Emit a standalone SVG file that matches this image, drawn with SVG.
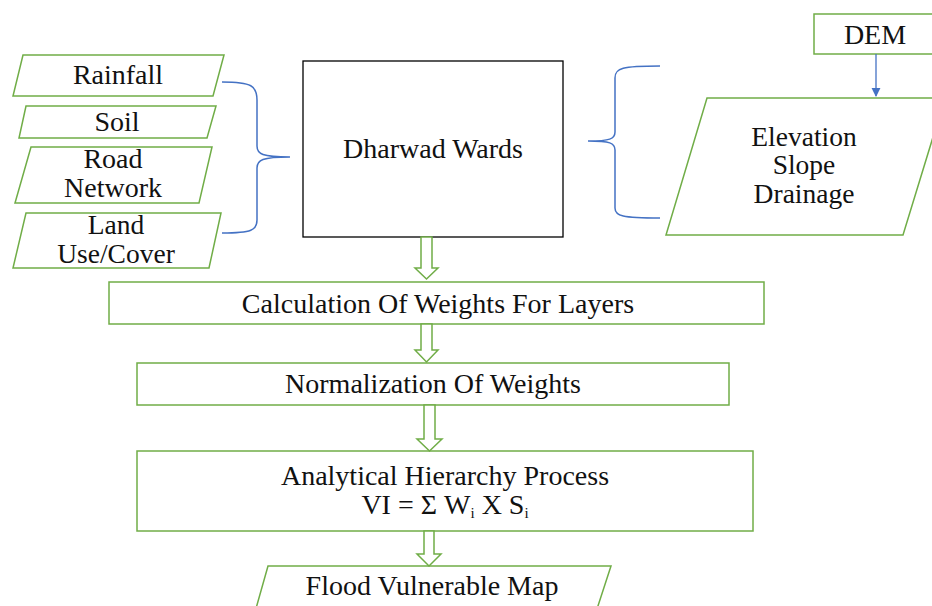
<svg xmlns="http://www.w3.org/2000/svg" width="932" height="606" viewBox="0 0 932 606">
  <defs>
    <style>
      .g { fill: #ffffff; stroke: #70ad47; stroke-width: 1.5; }
      .k { fill: #ffffff; stroke: #000000; stroke-width: 1.3; }
      .brace { fill: none; stroke: #4472c4; stroke-width: 1.5; }
      text { fill: #111111; text-anchor: middle; }
    </style>
    <marker id="blueHead" viewBox="0 0 10 10" refX="9" refY="5" markerWidth="7" markerHeight="7" orient="auto">
      <path d="M0,0 L10,5 L0,10 z" fill="#4472c4"/>
    </marker>
  </defs>
  <rect width="932" height="606" fill="#ffffff"/>

  <!-- input layers -->
  <g id="rainfall">
    <polygon class="g" points="23,55 224,55 213,96 13,96"/>
    <text x="118" y="84" font-family="Liberation Serif" font-size="28">Rainfall</text>
  </g>
  <g id="soil">
    <polygon class="g" points="26,106 216,106 207,138 19,138"/>
    <text x="117" y="131" font-family="Liberation Serif" font-size="28">Soil</text>
  </g>
  <g id="road">
    <polygon class="g" points="31,147 212,147 199,203 15,203"/>
    <text x="113" y="168" font-family="Liberation Serif" font-size="28">Road</text>
    <text x="113" y="197" font-family="Liberation Serif" font-size="28">Network</text>
  </g>
  <g id="landuse">
    <polygon class="g" points="26,213 221,213 209,268 13,268"/>
    <text x="116" y="234" font-family="Liberation Serif" font-size="27.5">Land</text>
    <text x="116" y="263" font-family="Liberation Serif" font-size="27.5">Use/Cover</text>
  </g>

  <g id="dharwad">
    <rect class="k" x="303" y="61" width="260" height="176"/>
    <text x="433" y="158" font-family="Liberation Serif" font-size="28">Dharwad Wards</text>
  </g>

  <g id="dem">
    <rect class="g" x="814" y="14" width="130" height="40"/>
    <text x="875" y="44" font-family="Liberation Serif" font-size="28">DEM</text>
  </g>

  <g id="terrain">
    <polygon class="g" points="707,98 945,98 903,235 666,235"/>
    <text x="804" y="146" font-family="Liberation Serif" font-size="27.5">Elevation</text>
    <text x="804" y="174" font-family="Liberation Serif" font-size="27.5">Slope</text>
    <text x="804" y="203" font-family="Liberation Serif" font-size="27.5">Drainage</text>
  </g>

  <g id="weights">
    <rect class="g" x="109" y="282" width="655" height="42"/>
    <text x="438" y="313" font-family="Liberation Serif" font-size="28">Calculation Of Weights For Layers</text>
  </g>

  <g id="normalization">
    <rect class="g" x="137" y="363" width="592" height="42"/>
    <text x="433" y="393" font-family="Liberation Serif" font-size="28">Normalization Of Weights</text>
  </g>

  <g id="ahp">
    <rect class="g" x="137" y="451" width="616" height="80"/>
    <text x="445" y="485" font-family="Liberation Serif" font-size="28">Analytical Hierarchy Process</text>
    <text x="445" y="514" font-family="Liberation Serif" font-size="28">VI = Σ W<tspan font-size="15" dy="4">i</tspan><tspan dy="-4"> X S</tspan><tspan font-size="15" dy="4">i</tspan></text>
  </g>

  <g id="floodmap">
    <polygon class="g" points="268,566 611,566 596,612 255,612"/>
    <text x="432" y="595" font-family="Liberation Serif" font-size="28">Flood Vulnerable Map</text>
  </g>

  <!-- connectors -->
  <g id="connectors">
    <path class="brace" d="M222,82 C252,82 257,86 257,100 L257,146 C257,154 262,157 290,157 C262,157 257,160 257,168 L257,220 C257,230 252,233 222,233"/>
    <path class="brace" d="M660,66 C622,66 615,68 615,78 L615,132 C615,139 610,141 588,141 C610,141 615,143 615,150 L615,208 C615,216 622,218 660,218"/>
    <line x1="876" y1="54" x2="876" y2="96" stroke="#4472c4" stroke-width="1.3" marker-end="url(#blueHead)"/>
    <polygon class="g" points="421,237 432,237 432,268 438,268 426.5,279 415,268 421,268"/>
    <polygon class="g" points="421,324 432,324 432,350 438,350 426.5,362 415,350 421,350"/>
    <polygon class="g" points="424,405 435,405 435,439 442,439 429.5,451 417,439 424,439"/>
    <polygon class="g" points="424,531 434,531 434,554 441,554 429,566 417,554 424,554"/>
  </g>
</svg>
